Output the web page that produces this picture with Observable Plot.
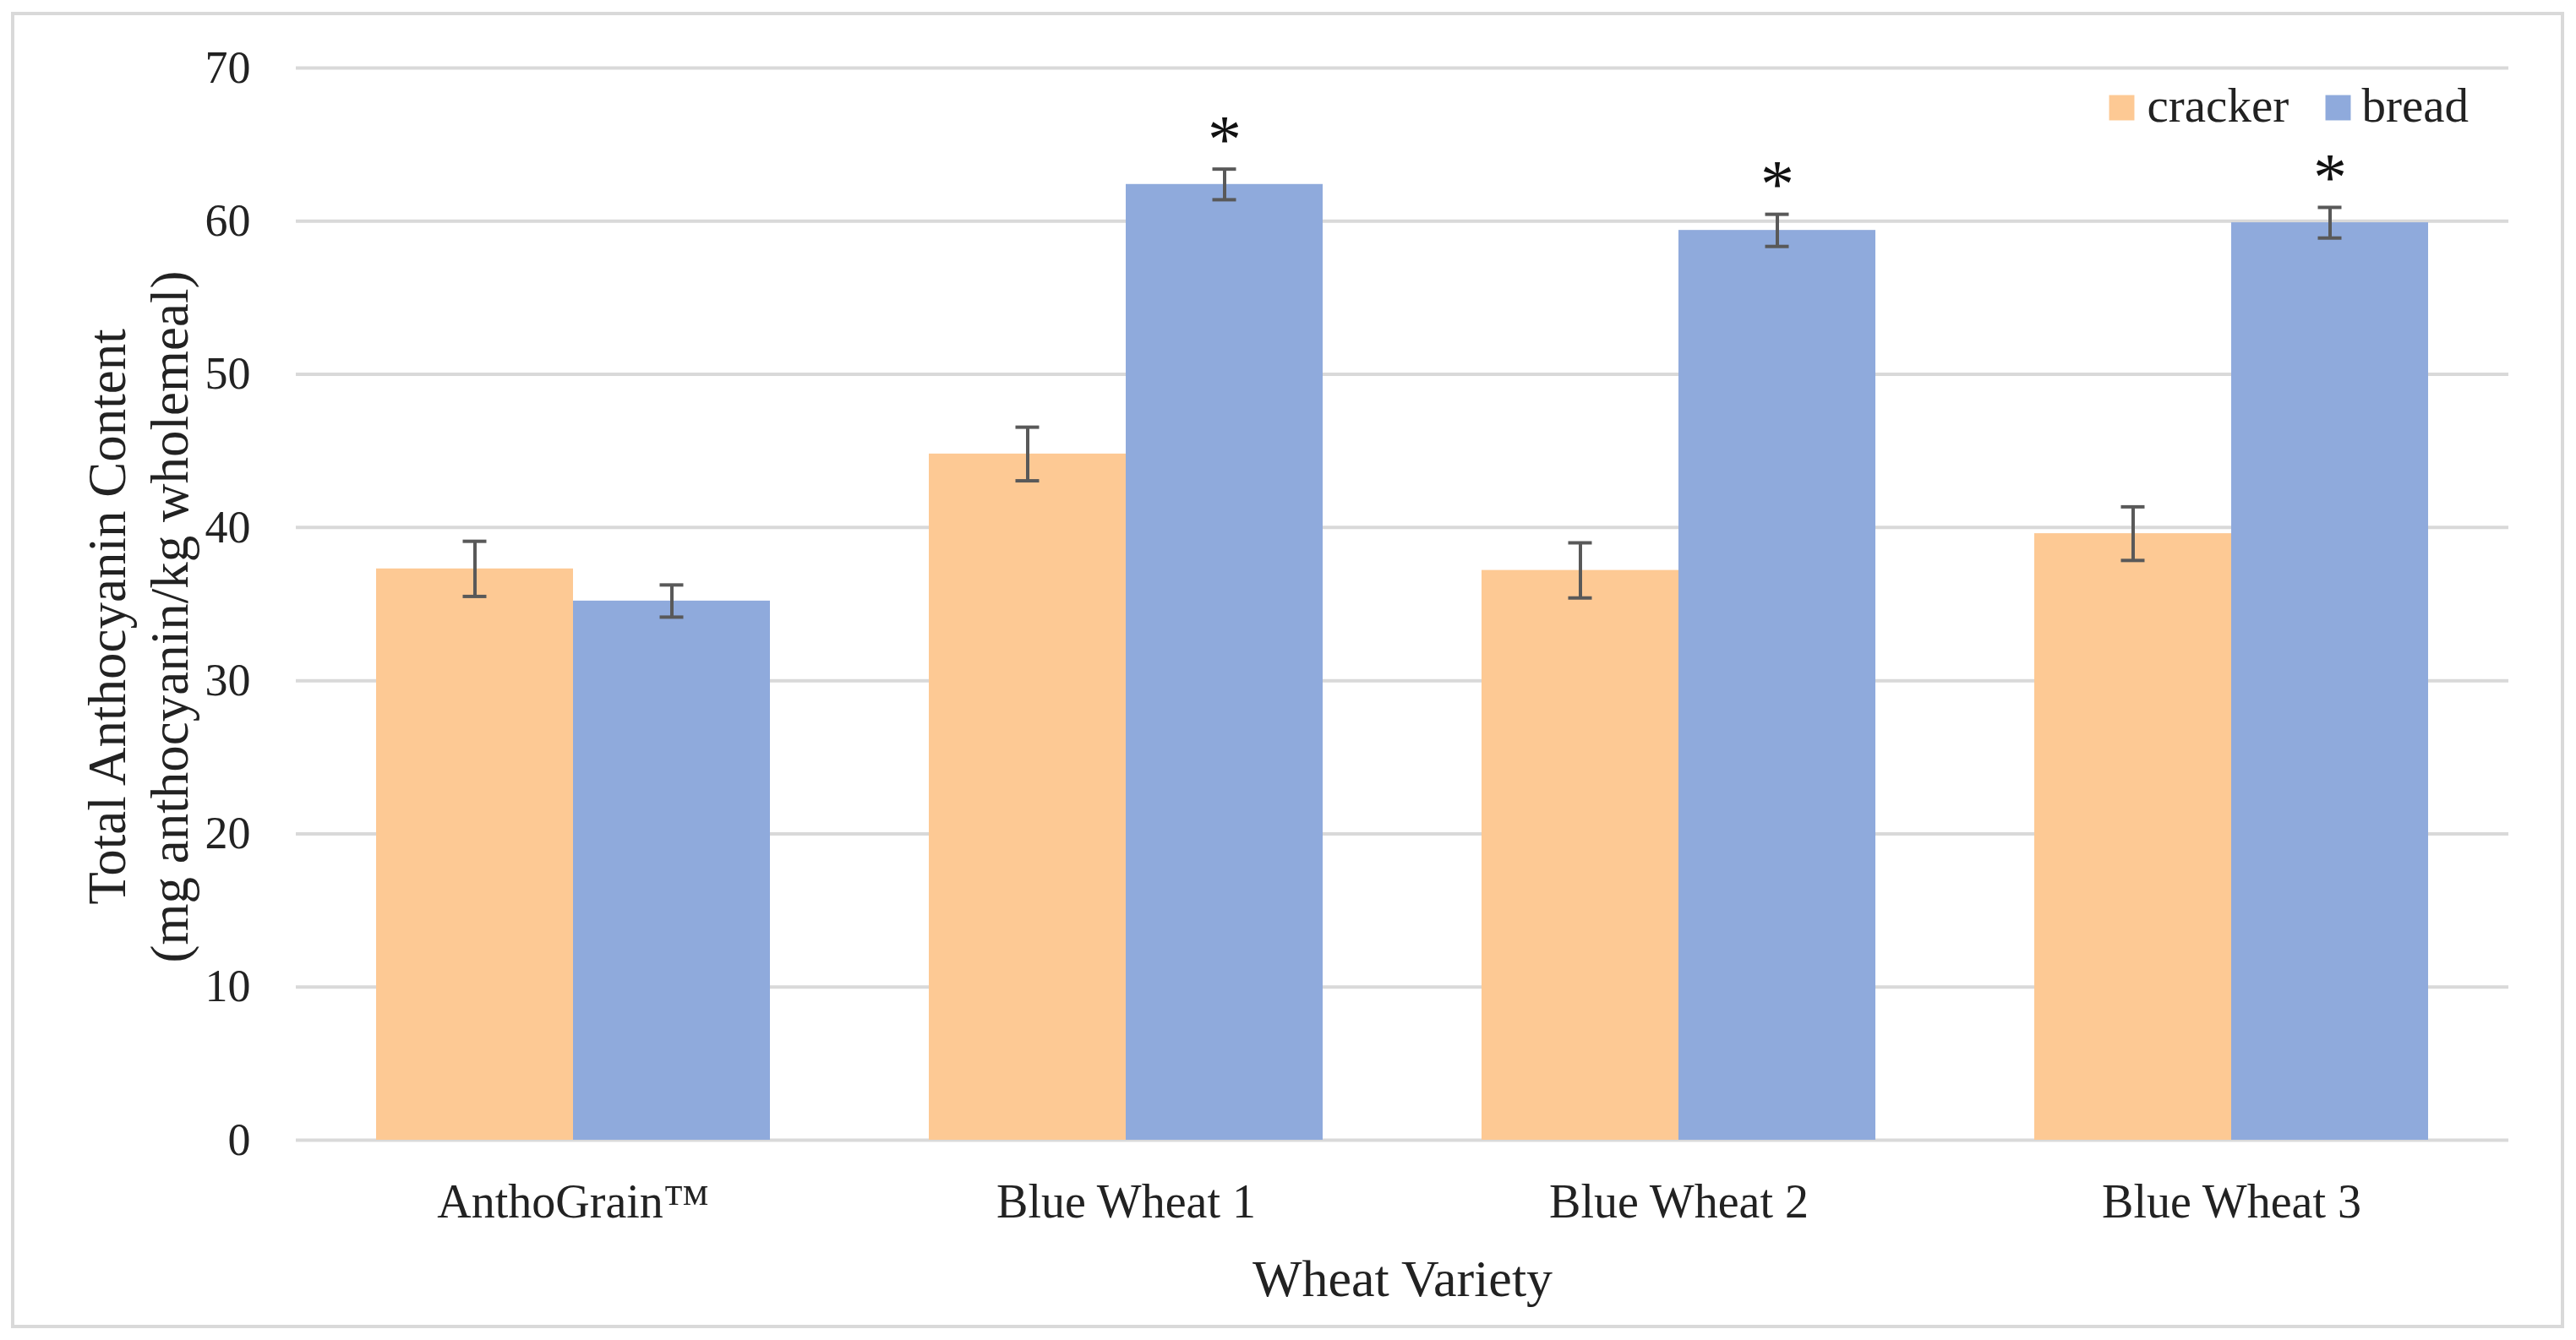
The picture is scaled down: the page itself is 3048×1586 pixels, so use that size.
<!DOCTYPE html>
<html><head><meta charset="utf-8">
<script src="https://cdn.jsdelivr.net/npm/d3@7"></script>
<script src="https://cdn.jsdelivr.net/npm/@observablehq/plot@0.6"></script>
<style>
body{margin:0;background:#fff;}
#frame{position:absolute;left:13px;top:14px;width:3013px;height:1550px;border:4px solid #d9d9d9;background:#fff;}
#frame svg{display:block;}
</style></head><body><div id="frame"></div>
<script>
const varieties = ["AnthoGrain™", "Blue Wheat 1", "Blue Wheat 2", "Blue Wheat 3"];
const series = ["cracker", "bread"];
const crackerMean = [37.3, 44.8, 37.2, 39.6];
const crackerErr = [1.8, 1.75, 1.8, 1.75];
const breadMean = [35.2, 62.4, 59.4, 59.9];
const breadErr = [1.05, 1.0, 1.05, 1.0];
const significant = [false, true, true, true];
const yTicks = [0, 10, 20, 30, 40, 50, 60, 70];
const seriesColors = ["#FDC994", "#8FAADC"];

const W = 3013, H = 1550, mL = 333, mR = 62, mT = 62, mB = 219;
const padIn = 0.288, padOut = 0.144;
const step = (W - mL - mR) / varieties.length;
const bw = step * (1 - padIn);
const half = bw / 2;
const capW = 28;

const cracker = varieties.map((v, i) => ({variety: v, mean: crackerMean[i], err: crackerErr[i]}));
const bread = varieties.map((v, i) => ({variety: v, mean: breadMean[i], err: breadErr[i], sig: significant[i]}));

const capInsetNear = half / 2 - capW / 2;
const capInsetFar = bw - capInsetNear - capW;
const errColor = "#595959";

const chart = Plot.plot({
  width: W, height: H,
  marginLeft: mL, marginRight: mR, marginTop: mT, marginBottom: mB,
  style: {fontFamily: "'Liberation Serif', serif", fontSize: "54px", color: "#222", background: "transparent"},
  x: {type: "band", domain: varieties, paddingInner: padIn, paddingOuter: padOut, axis: null},
  y: {domain: [0, 70], axis: null},
  marks: [
    Plot.ruleY(yTicks, {y: d => d, stroke: "#d9d9d9", strokeWidth: 4}),
    Plot.barY(cracker, {x: "variety", y: "mean", fill: seriesColors[0], insetRight: half}),
    Plot.barY(bread, {x: "variety", y: "mean", fill: seriesColors[1], insetLeft: half}),
    Plot.ruleX(cracker, {x: "variety", y1: d => d.mean - d.err, y2: d => d.mean + d.err, dx: -half / 2, stroke: errColor, strokeWidth: 4}),
    Plot.ruleX(bread, {x: "variety", y1: d => d.mean - d.err, y2: d => d.mean + d.err, dx: half / 2, stroke: errColor, strokeWidth: 4}),
    Plot.tickY(cracker, {x: "variety", y: d => d.mean + d.err, insetLeft: capInsetNear, insetRight: capInsetFar, stroke: errColor, strokeWidth: 4}),
    Plot.tickY(cracker, {x: "variety", y: d => d.mean - d.err, insetLeft: capInsetNear, insetRight: capInsetFar, stroke: errColor, strokeWidth: 4}),
    Plot.tickY(bread, {x: "variety", y: d => d.mean + d.err, insetLeft: capInsetFar, insetRight: capInsetNear, stroke: errColor, strokeWidth: 4}),
    Plot.tickY(bread, {x: "variety", y: d => d.mean - d.err, insetLeft: capInsetFar, insetRight: capInsetNear, stroke: errColor, strokeWidth: 4}),
    Plot.text(bread.filter(d => d.sig), {x: "variety", y: d => d.mean + d.err, text: () => "*", dx: half / 2, dy: -34, fontSize: 80, lineAnchor: "middle", fill: "#111"}),
    Plot.axisY({ticks: yTicks, tickSize: 0, tickPadding: 54, fontSize: 54, label: null}),
    Plot.axisX({tickSize: 0, tickPadding: 52, fontSize: 56, label: null}),
    Plot.text(["Wheat Variety"], {frameAnchor: "bottom", dy: 165, fontSize: 62, lineAnchor: "middle", text: d => d}),
    Plot.text(["Total Anthocyanin Content\n(mg anthocyanin/kg wholemeal)"], {frameAnchor: "left", dx: -189, dy: 15, rotate: -90, fontSize: 63, lineHeight: 1.17, lineAnchor: "middle", textAnchor: "middle", text: d => d}),
    Plot.dot([series[0]], {frameAnchor: "top-right", dx: -458, dy: 47, symbol: "square", r: 16.9, fill: seriesColors[0]}),
    Plot.text([series[0]], {frameAnchor: "top-right", dx: -428, dy: 45, textAnchor: "start", lineAnchor: "middle", fontSize: 57, text: d => d}),
    Plot.dot([series[1]], {frameAnchor: "top-right", dx: -202, dy: 47, symbol: "square", r: 16.9, fill: seriesColors[1]}),
    Plot.text([series[1]], {frameAnchor: "top-right", dx: -174, dy: 45, textAnchor: "start", lineAnchor: "middle", fontSize: 57, text: d => d})
  ]
});
document.getElementById("frame").appendChild(chart);
</script></body></html>
